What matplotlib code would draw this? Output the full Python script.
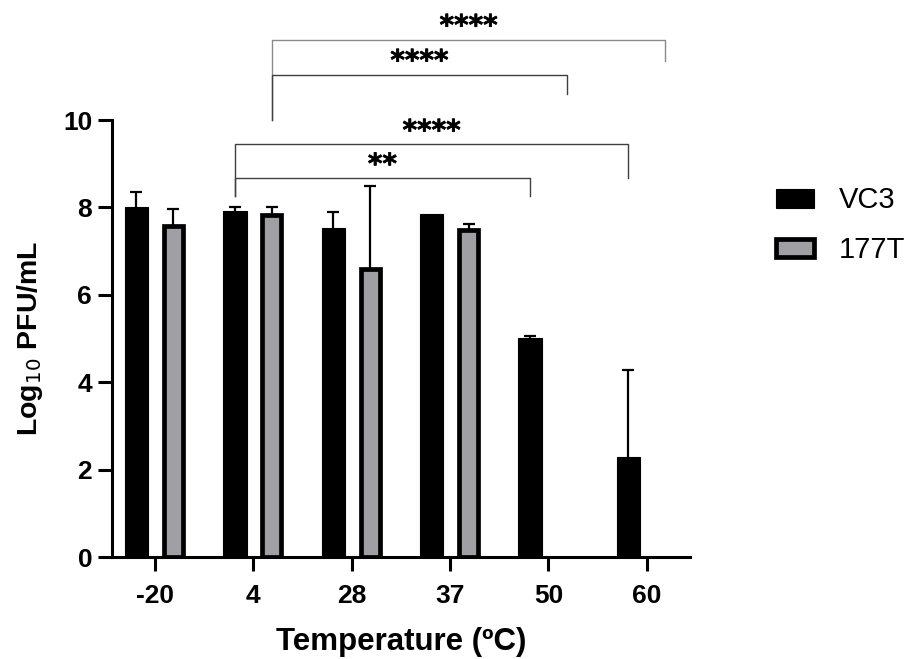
import numpy as np
import matplotlib.pyplot as plt
import matplotlib.patheffects as pe

temps = ['-20', '4', '28', '37', '50', '60']
vc3 = [8.00, 7.93, 7.54, 7.85, 5.02, 2.29]
vc3_err = [0.35, 0.09, 0.35, 0.0, 0.05, 2.00]
t177 = [7.58, 7.83, 6.60, 7.49, 0.0, 0.0]
t177_err = [0.38, 0.19, 1.90, 0.13, 0.0, 0.0]

# brackets: (group1, series1, group2, series2, line y, left drop, right drop, label)
brackets = [
    (1, 1, 5, 1, 11.84, 10.00, 11.36, '****'),
    (1, 1, 4, 1, 11.04, 10.00, 10.60, '****'),
    (1, 0, 5, 0, 9.44, 8.27, 8.68, '****'),
    (1, 0, 4, 0, 8.67, 8.27, 8.27, '**'),
]

plt.rcParams['font.family'] = ['Liberation Sans', 'DejaVu Sans']

fig = plt.figure(figsize=(9.14, 6.59), dpi=100)
ax = fig.add_axes([0.1222, 0.1543, 0.6328, 0.6636])

x = np.arange(len(temps))
off = 0.188
gray = '#a0a0a4'

b1 = ax.bar(x - off, vc3, 0.238, color='black', edgecolor='black', linewidth=0.8,
            label='VC3', zorder=2)
b2 = ax.bar(x + off, t177, 0.195, color=gray, edgecolor='black', linewidth=3.4,
            label='177T', zorder=2)
for rect, v in zip(b2.patches, t177):
    if v == 0:
        rect.set_linewidth(0)

# upper error bars only (one cap at the top)
for xs, vals, errs in [(x - off, vc3, vc3_err), (x + off, t177, t177_err)]:
    vals = np.array(vals)
    errs = np.array(errs)
    keep = (vals > 0) & (errs > 0)
    ax.vlines(xs[keep], vals[keep], vals[keep] + errs[keep], color='black',
              lw=1.6, zorder=1.5)
    ax.plot(xs[keep], vals[keep] + errs[keep], ls='none', marker='_',
            ms=8, mew=1.6, color='black', zorder=1.5)

for g1, s1, g2, s2, yl, d1, d2, lab in brackets:
    xa = g1 + (off if s1 else -off)
    xb = g2 + (off if s2 else -off)
    col = '#8a8a8a' if yl > 11.5 else '#404040'
    ax.plot([xa, xa, xb, xb], [d1, yl, yl, d2], color=col, lw=1.0,
            clip_on=False, zorder=1)
    ax.text((xa + xb) / 2, yl + 0.30, lab, ha='center', va='center',
            fontsize=20, fontweight='bold', family='DejaVu Sans', clip_on=False,
            path_effects=[pe.withStroke(linewidth=0.5, foreground='black')])

ax.set_xlim(-0.44, 5.44)
ax.set_ylim(0, 10)
ax.set_yticks([0, 2, 4, 6, 8, 10])
ax.set_xticks(x)
ax.set_xticklabels(temps)

for s in ['top', 'right']:
    ax.spines[s].set_visible(False)
for s in ['left', 'bottom']:
    ax.spines[s].set_linewidth(2.2)

ax.tick_params(axis='both', width=2.2, length=10, labelsize=19)
ax.tick_params(axis='y', pad=4)
ax.tick_params(axis='x', pad=9)
for lbl in ax.get_xticklabels() + ax.get_yticklabels():
    lbl.set_fontweight('bold')

ax.set_ylabel('Log$_{10}$ PFU/mL', fontsize=20.5, fontweight='bold', labelpad=13)
ax.set_xlabel('Temperature (ºC)', fontsize=22.5, fontweight='bold', labelpad=14)

fig.legend(handles=[b1, b2], labels=['VC3', '177T'], loc='center left',
           bbox_to_anchor=(0.849, 0.658), frameon=False, fontsize=21,
           handlelength=1.3, handleheight=0.62, handletextpad=0.85,
           labelspacing=0.75, borderpad=0, borderaxespad=0)

fig.savefig('out.png', dpi=100)
